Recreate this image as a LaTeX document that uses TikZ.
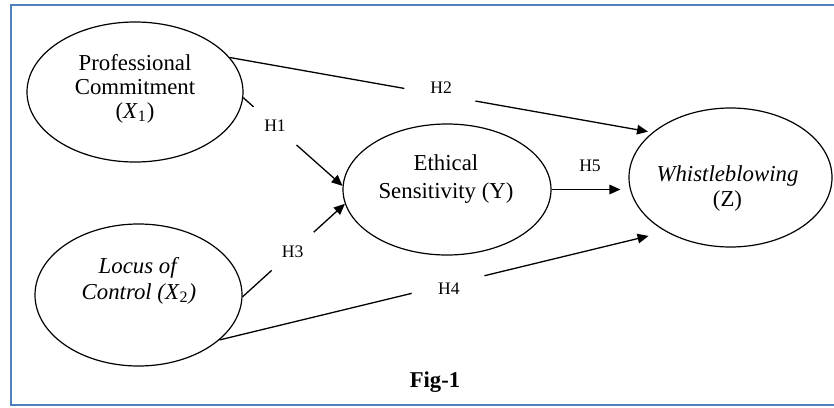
\documentclass[tikz,border=0pt]{standalone}
\usepackage{fontspec}
\setmainfont{Liberation Serif}
\usetikzlibrary{shapes.geometric,arrows.meta}
\definecolor{frameblue}{RGB}{79,129,189}
\pgfdeclarelayer{bg}
\pgfsetlayers{bg,main}
\begin{document}
\begin{tikzpicture}[x=0.5pt,y=-0.5pt,
  ell/.style={draw,ellipse,line width=0.6pt,inner sep=0pt},
  txt/.style={align=center,inner sep=0pt},
  arr/.style={line width=0.65pt,-{Triangle[length=5.5pt,width=4.8pt]}},
  gaplab/.style={circle,fill=white,inner sep=0pt,font=\fontsize{8.8}{10}\selectfont},
  hyplab/.style={inner sep=0pt,font=\fontsize{8.8}{10}\selectfont}]
\useasboundingbox (0,0) rectangle (834,407);
\draw[frameblue,line width=1pt] (840,5) -- (11,5) -- (11,405) -- (840,405);

% ellipses
\node[ell,minimum width=108pt,minimum height=70pt] (X1) at (135,92) {};
\node[ell,minimum width=103.5pt,minimum height=71pt] (X2) at (138.5,295) {};
\node[ell,minimum width=104pt,minimum height=65.5pt] (Y) at (447,189.5) {};
\node[ell,minimum width=101.5pt,minimum height=69.5pt] (Z) at (730.5,177.5) {};

% texts
\node[txt,font=\fontsize{11.4}{12}\selectfont] (X1t) at (135,89)
  {Professional\\Commitment\\(\textit{X}\textsubscript{1})};
\node[txt,font=\fontsize{11.4}{13}\selectfont] (X2t) at (139,280.5)
  {\textit{Locus of}\\\textit{Control (X}\textsubscript{2}\textit{)}};
\node[txt,font=\fontsize{11.4}{14}\selectfont] (Yt) at (446,179)
  {Ethical\\Sensitivity (Y)};
\node[txt,font=\fontsize{11.4}{12.5}\selectfont] (Zt) at (727.5,188.5)
  {\textit{Whistleblowing}\\(Z)};

% connectors
\begin{pgfonlayer}{bg}
\draw[arr] (X1.-3) -- node[gaplab,pos=0.32,minimum size=28.7pt]{H1} (Y.178);
\draw[arr,shorten >=2.2pt] (X1.20) -- node[gaplab,pos=0.5,minimum size=36.7pt,yshift=3.5pt]{H2} (Z.150.3);
\draw[arr] (X2.-1) -- node[gaplab,pos=0.49,minimum size=28.3pt]{H3} (Y.-172.1);
\draw[arr,shorten >=8.9pt] (X2.-29) -- node[gaplab,pos=0.514,minimum size=37.6pt,yshift=-2pt]{H4} (Z.-140.8);
\draw[arr,shorten >=4pt] (Y.east) -- node[hyplab,midway,yshift=12pt]{H5} (Y.east -| Z.west);
\end{pgfonlayer}

\node[font=\fontsize{11.3}{13}\bfseries,inner sep=0pt] (fig) at (435,382) {Fig-1};
\end{tikzpicture}
\end{document}
